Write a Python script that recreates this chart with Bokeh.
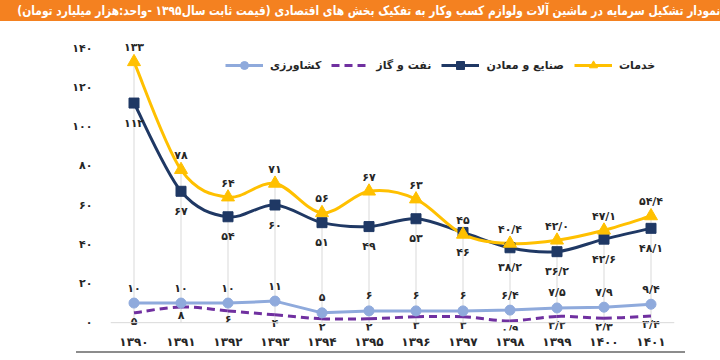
from bokeh.plotting import figure
from bokeh.models import ColumnDataSource, FixedTicker, Legend, LegendItem, Div, Range1d, Span
from bokeh.layouts import column
from bokeh.embed import file_html
from bokeh.resources import INLINE
from bokeh.core.properties import value

# ---------------- data ----------------
years = [1390, 1391, 1392, 1393, 1394, 1395, 1396, 1397, 1398, 1399, 1400, 1401]
khadamat = [133, 78, 64, 71, 56, 67, 63, 45, 40.4, 42.0, 47.1, 54.4]      # services
sanaye = [112, 67, 54, 60, 51, 49, 53, 46, 38.2, 36.2, 42.6, 48.1]        # industry & mining
naft = [5, 8, 6, 4, 2, 2, 3, 3, 0.9, 3.2, 2.3, 3.4]                       # oil & gas
keshavarzi = [10, 10, 10, 11, 5, 6, 6, 6, 6.4, 7.5, 7.9, 9.4]             # agriculture
y_ticks = [0, 20, 40, 60, 80, 100, 120, 140]

names = {"khadamat": "خدمات", "sanaye": "صنایع و معادن",
         "naft": "نفت و گاز", "keshavarzi": "کشاورزی"}
title_text = ("نمودار تشکیل سرمایه در ماشین آلات ولوازم کسب وکار به تفکیک بخش های اقتصادی "
              "(قیمت ثابت سال۱۳۹۵ -واحد:هزار میلیارد تومان)")

# ---------------- helpers ----------------
FA = str.maketrans("0123456789.", "۰۱۲۳۴۵۶۷۸۹/")


def fa(s):
    return str(s).translate(FA)


def fmt(v, yr):
    return fa(f"{v:.1f}" if yr >= 1398 else f"{v:.0f}")


def smooth(xs, ys):
    n = len(xs)
    d = {k: [] for k in ("x0", "y0", "x1", "y1", "cx0", "cy0", "cx1", "cy1")}
    for i in range(n - 1):
        a, b, c, e = max(i - 1, 0), i, i + 1, min(i + 2, n - 1)
        d["x0"].append(xs[b]); d["y0"].append(ys[b])
        d["x1"].append(xs[c]); d["y1"].append(ys[c])
        d["cx0"].append(xs[b] + (xs[c] - xs[a]) / 6)
        d["cy0"].append(ys[b] + (ys[c] - ys[a]) / 6)
        d["cx1"].append(xs[c] - (xs[e] - xs[b]) / 6)
        d["cy1"].append(ys[c] - (ys[e] - ys[b]) / 6)
    return ColumnDataSource(d)


YEL = "#FFC000"
NAVY = "#1F3864"
PURP = "#7030A0"
LBLUE = "#8FAADC"
GRID = "#D9D9D9"
TXT = "#262626"
FONT = "DejaVu Sans"

p = figure(frame_width=564, frame_height=290,
           x_range=Range1d(1389.5, 1401.5), y_range=Range1d(-4, 143.9),
           output_backend="svg", toolbar_location=None,
           min_border_left=0, min_border_right=46,
           min_border_top=19, min_border_bottom=18, margin=0)
p.xgrid.visible = False
p.ygrid.visible = False
p.outline_line_color = None
p.background_fill_color = "white"
p.border_fill_color = "white"

# baseline and drop lines
p.add_layout(Span(location=0, dimension="width", line_color=GRID, line_width=1))
tops = [max(a, b, c, d) for a, b, c, d in zip(khadamat, sanaye, naft, keshavarzi)]
p.segment(x0=years, y0=[0] * len(years), x1=years, y1=tops, line_color=GRID, line_width=1)

# lines
r_k = p.line(years, keshavarzi, line_color=LBLUE, line_width=3)
r_n = p.bezier(source=smooth(years, naft), x0="x0", y0="y0", x1="x1", y1="y1",
               cx0="cx0", cy0="cy0", cx1="cx1", cy1="cy1",
               line_color=PURP, line_width=3, line_dash="8 5")
r_s = p.bezier(source=smooth(years, sanaye), x0="x0", y0="y0", x1="x1", y1="y1",
               cx0="cx0", cy0="cy0", cx1="cx1", cy1="cy1",
               line_color=NAVY, line_width=3)
r_h = p.bezier(source=smooth(years, khadamat), x0="x0", y0="y0", x1="x1", y1="y1",
               cx0="cx0", cy0="cy0", cx1="cx1", cy1="cy1",
               line_color=YEL, line_width=3)

# markers
m_k = p.scatter(years, keshavarzi, marker="circle", size=10, fill_color=LBLUE, line_color=LBLUE)
m_s = p.scatter(years, sanaye, marker="square", size=10, fill_color=NAVY, line_color=NAVY)
m_h = p.scatter(years, khadamat, marker="triangle", size=13, fill_color=YEL, line_color=YEL)


# data labels
def labels(vals, off):
    p.text(x=years, y=vals, text=[fmt(v, y) for v, y in zip(vals, years)],
           text_align="center", text_baseline="middle", y_offset=off,
           text_font=value(FONT), text_font_style="bold", text_font_size="11px",
           text_color=TXT)


labels(khadamat, -14)
labels(sanaye, 20)
labels(keshavarzi, -15)
labels(naft, 9)

# axes
p.yaxis.ticker = FixedTicker(ticks=y_ticks)
p.yaxis.major_label_overrides = {t: fa(t) for t in y_ticks}
p.yaxis.axis_line_color = None
p.yaxis.major_tick_line_color = None
p.yaxis.minor_tick_line_color = None
p.yaxis.major_tick_out = 0
p.yaxis.minor_tick_out = 0
p.yaxis.major_label_standoff = 18
p.yaxis.major_label_text_font = FONT
p.yaxis.major_label_text_font_style = "bold"
p.yaxis.major_label_text_font_size = "11px"
p.yaxis.major_label_text_color = TXT
p.yaxis.axis_label = " "
p.yaxis.axis_label_text_font_size = "1px"
p.yaxis.axis_label_standoff = 65

p.xaxis.ticker = FixedTicker(ticks=years)
p.xaxis.major_label_overrides = {y: fa(y) for y in years}
p.xaxis.axis_line_color = None
p.xaxis.major_tick_line_color = None
p.xaxis.minor_tick_line_color = None
p.xaxis.major_tick_out = 0
p.xaxis.minor_tick_out = 0
p.xaxis.major_label_standoff = 4
p.xaxis.major_label_text_font = FONT
p.xaxis.major_label_text_font_style = "bold"
p.xaxis.major_label_text_font_size = "12px"
p.xaxis.major_label_text_color = TXT

legend = Legend(items=[LegendItem(label=names["keshavarzi"], renderers=[r_k, m_k]),
                       LegendItem(label=names["naft"], renderers=[r_n]),
                       LegendItem(label=names["sanaye"], renderers=[r_s, m_s]),
                       LegendItem(label=names["khadamat"], renderers=[r_h, m_h])],
                orientation="horizontal", location=(115, 255),
                glyph_width=38, glyph_height=20, label_standoff=7, spacing=10,
                padding=0, margin=0, border_line_alpha=0, background_fill_alpha=0,
                label_text_font=FONT, label_text_font_style="bold",
                label_text_font_size="11px", label_text_color=TXT)
p.add_layout(legend)

title_html = ('<span style="display:inline-block; transform:scaleX(0.82); '
              'transform-origin:100% 50%; font-size:13px;">' + title_text + '</span>')
title = Div(text=title_html, width=720, height=21, margin=0,
            styles={"background-color": "#F48120", "color": "white",
                    "font-weight": "bold", "direction": "rtl", "text-align": "right",
                    "overflow": "hidden", "white-space": "nowrap",
                    "line-height": "21px", "font-family": FONT})
rule = Div(text="", width=609, height=2, margin=(0, 0, 0, 76),
           styles={"background-color": "#8C8C8C"})

layout = column(title, p, rule, spacing=0)
open("out.html", "w").write(file_html(layout, INLINE))
